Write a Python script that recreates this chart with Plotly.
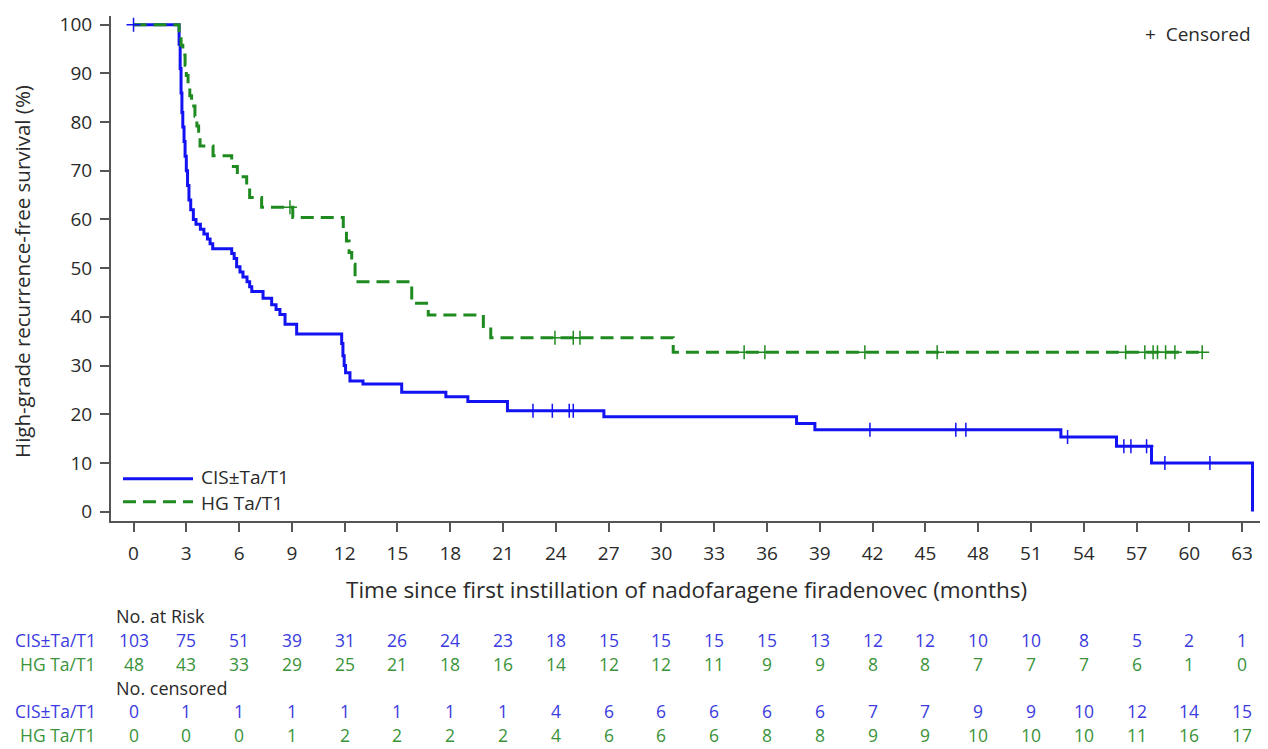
import numpy as np
import plotly.graph_objects as go

# ---------------- data ----------------
# Kaplan-Meier steps: value holds from time[i] until time[i+1]
cis_times = [0, 2.59, 2.65, 2.7, 2.75, 2.8, 2.87, 2.93, 3.0, 3.07, 3.15, 3.25, 3.4, 3.55, 3.8, 4.0, 4.2, 4.35, 4.5,
             5.58, 5.72, 5.86, 6.05, 6.22, 6.45, 6.6, 6.72, 7.36, 7.85, 8.1, 8.32, 8.61, 9.27,
             11.83, 11.9, 11.97, 12.05, 12.3, 13.04, 15.24, 17.75, 19.0, 21.25, 26.73, 37.68, 38.72,
             52.7, 55.86, 57.85, 63.59]
cis_surv = [100, 96, 91, 86, 82, 79, 76, 73, 70, 67, 64, 62, 60, 59, 58, 57, 56, 55, 54,
            53, 52, 50.3, 49.2, 48.2, 47.2, 46.2, 45.2, 43.8, 42.5, 41.5, 40.5, 38.5, 36.5,
            34.5, 32, 30, 28.5, 26.8, 26.2, 24.5, 23.6, 22.6, 20.7, 19.5, 18.1, 16.8,
            15.3, 13.4, 10.0, 0]
cis_censor_times = [0, 22.7, 23.8, 24.76, 24.99, 41.85, 46.73, 47.3, 53.08, 56.28, 56.68, 57.57, 58.61, 61.17]

hg_times = [0, 2.59, 2.7, 2.8, 2.93, 3.0, 3.1, 3.2, 3.3, 3.49, 3.6, 3.7, 3.78, 4.52,
            5.58, 5.9, 6.43, 6.6, 7.28, 9.05, 11.92, 12.1, 12.25, 12.4, 12.59,
            15.81, 16.75, 19.88, 20.3, 30.67, 60.8]
hg_surv = [100, 97.9, 95.8, 93.8, 91.7, 89.6, 87.5, 85.4, 83.3, 81.2, 79.2, 77.1, 75.1, 73.1,
           70.9, 68.8, 66.7, 64.5, 62.5, 60.4, 58.0, 55.6, 53.2, 50.8, 47.2,
           42.8, 40.4, 38.0, 35.7, 32.7, 32.7]
hg_censor_times = [8.89, 23.95, 24.99, 25.37, 34.7, 35.88, 41.56, 45.67, 56.38, 57.47, 57.94,
                   58.19, 58.65, 59.18, 60.73]

months = list(range(0, 64, 3))
cis_risk = [103, 75, 51, 39, 31, 26, 24, 23, 18, 15, 15, 15, 15, 13, 12, 12, 10, 10, 8, 5, 2, 1]
hg_risk = [48, 43, 33, 29, 25, 21, 18, 16, 14, 12, 12, 11, 9, 9, 8, 8, 7, 7, 7, 6, 1, 0]
cis_cens = [0, 1, 1, 1, 1, 1, 1, 1, 4, 6, 6, 6, 6, 6, 7, 7, 9, 9, 10, 12, 14, 15]
hg_cens = [0, 0, 0, 1, 2, 2, 2, 2, 4, 6, 6, 6, 8, 8, 9, 9, 10, 10, 10, 11, 16, 17]

y_ticks = list(range(0, 101, 10))

group_names = ["CIS±Ta/T1", "HG Ta/T1"]

# ---------------- styles ----------------
FONT = "Open Sans"
BLUE = "#1212f2"
GREEN = "#1f8a1f"
BLUE_TXT = "#3b3be0"
GREEN_TXT = "#3a933a"
AX = "#555555"
TXT = "#2a2a2a"
TABLE_SIZE = 17.5

OFF = 8                      # page body margin
W, H = 1268 - OFF, 749 - OFF
# plot area in screenshot pixels
LEFT, RIGHT, TOP, BOTTOM = 111, 1265, 12, 521
ML, MT = LEFT - OFF, TOP - OFF
MR = W - (RIGHT - OFF)
MB = H - (BOTTOM - OFF)
PW, PH = RIGHT - LEFT, BOTTOM - TOP


def px_x(p):
    return (p - LEFT) / PW


def px_y(p):
    return (BOTTOM - p) / PH


def step_value(times, surv, t):
    idx = int(np.searchsorted(np.array(times), t, side="right")) - 1
    return surv[max(idx, 0)]


fig = go.Figure()

fig.add_trace(go.Scatter(x=cis_times, y=cis_surv, mode="lines", line_shape="hv",
                         line=dict(color=BLUE, width=3), name=group_names[0],
                         showlegend=False, hoverinfo="skip"))
fig.add_trace(go.Scatter(x=hg_times, y=hg_surv, mode="lines", line_shape="hv",
                         line=dict(color=GREEN, width=3, dash="13px,7px"), name=group_names[1],
                         showlegend=False, hoverinfo="skip"))

fig.add_trace(go.Scatter(x=cis_censor_times,
                         y=[step_value(cis_times, cis_surv, t) for t in cis_censor_times],
                         mode="markers",
                         marker=dict(symbol="cross-thin", size=10, line=dict(color=BLUE, width=1.5)),
                         showlegend=False, hoverinfo="skip"))
fig.add_trace(go.Scatter(x=hg_censor_times,
                         y=[step_value(hg_times, hg_surv, t) for t in hg_censor_times],
                         mode="markers",
                         marker=dict(symbol="cross-thin", size=10, line=dict(color=GREEN, width=1.5)),
                         showlegend=False, hoverinfo="skip"))

annotations = []
shapes = []

# legend (manual)
shapes.append(dict(type="line", xref="paper", yref="paper", x0=px_x(123), x1=px_x(193),
                   y0=px_y(478.5), y1=px_y(478.5), line=dict(color=BLUE, width=3)))
shapes.append(dict(type="line", xref="paper", yref="paper", x0=px_x(123), x1=px_x(193),
                   y0=px_y(501.5), y1=px_y(501.5), line=dict(color=GREEN, width=3, dash="13px,7px")))
for name, yy in zip(group_names, [476.8, 503.2]):
    annotations.append(dict(text=name, xref="paper", yref="paper", x=px_x(200), y=px_y(yy),
                            xanchor="left", yanchor="middle", showarrow=False, borderpad=0,
                            font=dict(family=FONT, size=19, color=TXT)))

# censored key
annotations.append(dict(text="+  Censored", xref="paper", yref="paper", x=px_x(1253), y=px_y(30),
                        xanchor="right", yanchor="middle", showarrow=False,
                        font=dict(family=FONT, size=19, color=TXT)))

# axis titles
annotations.append(dict(text="Time since first instillation of nadofaragene firadenovec (months)",
                        xref="paper", yref="paper", x=px_x(686), y=px_y(590),
                        xanchor="center", yanchor="middle", showarrow=False,
                        font=dict(family=FONT, size=22.5, color=TXT)))
annotations.append(dict(text="High-grade recurrence-free survival (%)",
                        xref="paper", yref="paper", x=px_x(22), y=px_y(270), textangle=-90,
                        xanchor="center", yanchor="middle", showarrow=False, borderpad=0,
                        font=dict(family=FONT, size=20.5, color=TXT)))

# risk table
annotations.append(dict(text="No. at Risk", xref="paper", yref="paper", x=px_x(115), y=px_y(617),
                        xanchor="left", yanchor="middle", showarrow=False, borderpad=0,
                        font=dict(family=FONT, size=TABLE_SIZE + 0.5, color=TXT)))
annotations.append(dict(text="No. censored", xref="paper", yref="paper", x=px_x(115), y=px_y(689),
                        xanchor="left", yanchor="middle", showarrow=False, borderpad=0,
                        font=dict(family=FONT, size=TABLE_SIZE + 0.5, color=TXT)))

rows = [(group_names[0], cis_risk, 641, BLUE_TXT),
        (group_names[1], hg_risk, 665, GREEN_TXT),
        (group_names[0], cis_cens, 713, BLUE_TXT),
        (group_names[1], hg_cens, 737, GREEN_TXT)]
for label, vals, yy, col in rows:
    annotations.append(dict(text=label, xref="paper", yref="paper", x=px_x(97), y=px_y(yy),
                            xanchor="right", yanchor="middle", showarrow=False, borderpad=0,
                            font=dict(family=FONT, size=TABLE_SIZE, color=col)))
    for m, v in zip(months, vals):
        annotations.append(dict(text=str(v), xref="x", yref="paper", x=m, y=px_y(yy),
                                xanchor="center", yanchor="middle", showarrow=False, borderpad=0,
                                font=dict(family=FONT, size=TABLE_SIZE, color=col)))

fig.update_layout(
    width=W, height=H,
    margin=dict(l=ML, r=MR, t=MT, b=MB),
    paper_bgcolor="white", plot_bgcolor="white",
    showlegend=False,
    annotations=annotations, shapes=shapes,
    font=dict(family=FONT, color=TXT),
)
fig.update_xaxes(range=[-1.28, 64.3], tickvals=months, ticks="outside", ticklen=9, tickwidth=1.5,
                 tickcolor=AX, showline=True, linecolor=AX, linewidth=2, showgrid=False,
                 zeroline=False, tickfont=dict(family=FONT, size=19, color=TXT), ticklabelstandoff=5,
                 ticklabeloverflow="allow")
fig.update_yaxes(range=[-1.94, 101.8], tickvals=y_ticks, ticks="outside", ticklen=9, tickwidth=1.5,
                 tickcolor=AX, showline=True, linecolor=AX, linewidth=2, showgrid=False,
                 zeroline=False, tickfont=dict(family=FONT, size=19, color=TXT), ticklabelstandoff=4,
                 ticklabeloverflow="allow")

fig.write_html("out.html")
